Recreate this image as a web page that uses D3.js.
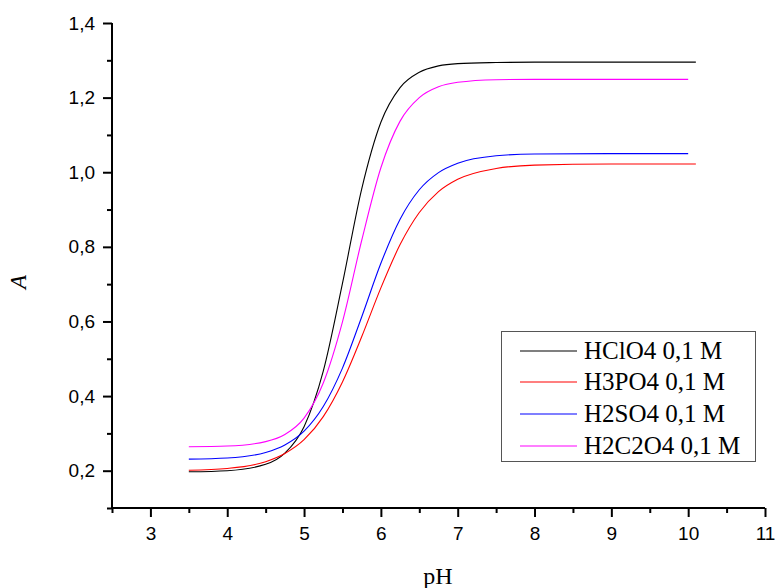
<!DOCTYPE html>
<html>
<head>
<meta charset="utf-8">
<script src="https://cdn.jsdelivr.net/npm/d3@7"></script>
<style>
  html, body { margin: 0; padding: 0; background: #fff; }
  svg { display: block; }
</style>
</head>
<body>
<svg id="chart" width="780" height="588"></svg>
<script>
// ---- data ----
const pH = [3.5, 4.0, 4.5, 4.75, 5.0, 5.25, 5.5, 5.75, 6.0, 6.25, 6.5, 6.75, 7.0, 7.5, 8.0, 9.0];
const seriesNames = ["HClO4 0,1 M", "H3PO4 0,1 M", "H2SO4 0,1 M", "H2C2O4 0,1 M"];
const seriesColors = ["#000000", "#ff0000", "#0000ff", "#ff00ff"];
const endPH = [10.1, 10.1, 10.0, 10.0];
const HClO4  = [0.197, 0.200, 0.217, 0.247, 0.318, 0.467, 0.702, 0.955, 1.134, 1.227, 1.268, 1.285, 1.291, 1.294, 1.295, 1.295, 1.295];
const H3PO4  = [0.201, 0.206, 0.224, 0.246, 0.283, 0.345, 0.438, 0.559, 0.690, 0.806, 0.892, 0.948, 0.981, 1.010, 1.019, 1.022, 1.022];
const H2SO4  = [0.231, 0.234, 0.249, 0.269, 0.306, 0.372, 0.475, 0.612, 0.756, 0.874, 0.953, 0.999, 1.024, 1.044, 1.049, 1.050, 1.050];
const H2C2O4 = [0.264, 0.266, 0.278, 0.297, 0.341, 0.435, 0.599, 0.817, 1.012, 1.137, 1.200, 1.229, 1.241, 1.248, 1.249, 1.249, 1.249];
const xTicks = [3, 4, 5, 6, 7, 8, 9, 10, 11];
const yTicks = [0.2, 0.4, 0.6, 0.8, 1.0, 1.2, 1.4];
const xMinor = [2.5, 3.5, 4.5, 5.5, 6.5, 7.5, 8.5, 9.5, 10.5];
const yMinor = [0.1, 0.3, 0.5, 0.7, 0.9, 1.1, 1.3];

const seriesValues = [HClO4, H3PO4, H2SO4, H2C2O4];

// ---- layout ----
const svg = d3.select("#chart");
const x = d3.scaleLinear().domain([2.5, 11]).range([112, 765]);
const y = d3.scaleLinear().domain([0.1, 1.4]).range([508, 23]);
const fmt = d => d3.format(".1f")(d).replace(".", ",");

// ---- curves ----
const line = d3.line()
  .x(d => x(d[0]))
  .y(d => y(d[1]))
  .curve(d3.curveMonotoneX);

seriesValues.forEach((vals, i) => {
  const xs = pH.concat([endPH[i]]);
  const pts = xs.map((p, k) => [p, vals[k]]);
  svg.append("path")
    .datum(pts)
    .attr("d", line)
    .attr("fill", "none")
    .attr("stroke", seriesColors[i])
    .attr("stroke-width", 1.1);
});

// ---- axes ----
const axisFont = "'Liberation Sans', Arial, sans-serif";

const xAxis = svg.append("g").attr("transform", `translate(0,${y(0.1)})`)
  .call(d3.axisBottom(x).tickValues(xTicks).tickFormat(d3.format("d")).tickSize(9).tickPadding(10));
const xMin = svg.append("g").attr("transform", `translate(0,${y(0.1)})`)
  .call(d3.axisBottom(x).tickValues(xMinor).tickFormat("").tickSize(5));
const yAxis = svg.append("g").attr("transform", `translate(${x(2.5)},0)`)
  .call(d3.axisLeft(y).tickValues(yTicks).tickFormat(fmt).tickSize(9).tickPadding(8));
const yMin = svg.append("g").attr("transform", `translate(${x(2.5)},0)`)
  .call(d3.axisLeft(y).tickValues(yMinor).tickFormat("").tickSize(5));

[xAxis, xMin, yAxis, yMin].forEach(g => {
  g.selectAll("path").attr("stroke", "#000").attr("stroke-width", 2);
  g.selectAll("line").attr("stroke", "#000").attr("stroke-width", 2);
  g.selectAll("text").attr("fill", "#000").style("font-family", axisFont).style("font-size", "19px");
});
xMin.select("path").remove();
yMin.select("path").remove();
xAxis.select("path").attr("d", `M${x(2.5)},0H${x(11)}`);
yAxis.select("path").attr("d", `M0,${y(0.1)}V${y(1.4)}`);

// ---- axis titles ----
const serif = "'Liberation Serif', 'Times New Roman', serif";
svg.append("text")
  .attr("x", 438).attr("y", 584)
  .attr("text-anchor", "middle")
  .style("font-family", serif).style("font-size", "24px")
  .text("pH");
svg.append("text")
  .attr("transform", "translate(26,282) rotate(-90)")
  .attr("text-anchor", "middle")
  .style("font-family", serif).style("font-size", "23px").style("font-style", "italic")
  .text("A");

// ---- legend ----
const legend = svg.append("g");
legend.append("rect")
  .attr("x", 501.5).attr("y", 331.5).attr("width", 254).attr("height", 130)
  .attr("fill", "#fff").attr("stroke", "#555").attr("stroke-width", 1);
const rowY = [351, 382, 414, 446];
seriesNames.forEach((name, i) => {
  legend.append("line")
    .attr("x1", 520).attr("x2", 577).attr("y1", rowY[i]).attr("y2", rowY[i])
    .attr("stroke", seriesColors[i]).attr("stroke-width", 1.1);
  legend.append("text")
    .attr("x", 584).attr("y", rowY[i] + 8)
    .style("font-family", serif).style("font-size", "25px")
    .text(name);
});
</script>
</body>
</html>
